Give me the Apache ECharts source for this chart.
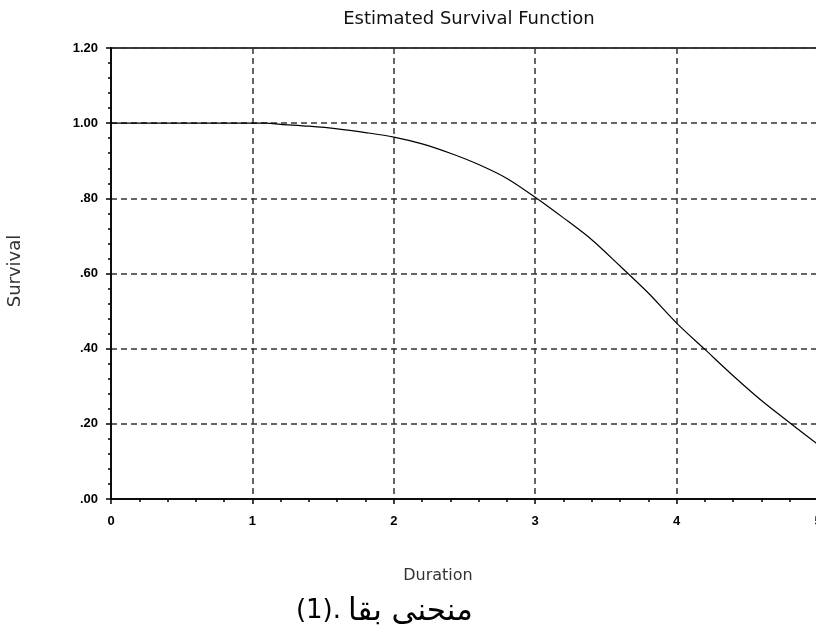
<!DOCTYPE html>
<html>
<head>
<meta charset="utf-8">
<title>Estimated Survival Function</title>
<script src="https://cdn.jsdelivr.net/npm/echarts@6/dist/echarts.min.js"></script>
<style>
  html, body { margin: 0; height: 100%; background: #fff; }
  #main { width: 816px; height: 633px; }
</style>
</head>
<body>
<div id="main"></div>
<script>
// estimated survival values
var duration = [0, 0.5, 1.0, 1.1, 1.2, 1.4, 1.6, 1.8, 2.0, 2.2, 2.4, 2.6, 2.8, 3.0, 3.2, 3.4, 3.6, 3.8, 4.0, 4.2, 4.4, 4.6, 4.8, 5.0];
var survival = [1.0, 1.0, 1.0, 1.0, 0.997, 0.992, 0.985, 0.975, 0.963, 0.945, 0.92, 0.89, 0.853, 0.803, 0.748, 0.69, 0.62, 0.548, 0.468, 0.398, 0.328, 0.262, 0.203, 0.145];
var yTickLabels = { '0': '.00', '0.2': '.20', '0.4': '.40', '0.6': '.60', '0.8': '.80', '1': '1.00', '1.2': '1.20' };

var points = [];
for (var i = 0; i < duration.length; i++) {
  points.push([duration[i], survival[i]]);
}

var chart = echarts.init(document.getElementById('main'));
var gridDash = { type: [6, 4], color: '#333', width: 1.5 };
var tickFont = { fontFamily: 'Liberation Sans', fontWeight: 'bold', fontSize: 13, color: '#000' };

var option = {
  animation: false,
  title: {
    text: 'Estimated Survival Function',
    left: 464, top: 5,
    textAlign: 'center',
    textStyle: { fontFamily: 'DejaVu Sans', fontWeight: 'normal', fontSize: 18, color: '#111' }
  },
  // x = 5 falls just past the right edge of the picture
  grid: { left: 111, width: 707, top: 48, height: 451, outerBoundsMode: 'none', show: true, borderColor: '#000', borderWidth: 1.5 },
  xAxis: {
    type: 'value',
    min: 0, max: 5, interval: 1,
    axisLine: { lineStyle: { color: '#000', width: 1.5 } },
    axisTick: { length: 5, lineStyle: { color: '#000', width: 1.5 } },
    minorTick: { show: true, splitNumber: 5, length: 3, lineStyle: { color: '#000', width: 1.5 } },
    axisLabel: Object.assign({ margin: 16 }, tickFont),
    splitLine: { show: true, lineStyle: gridDash }
  },
  yAxis: {
    type: 'value',
    min: 0, max: 1.2, interval: 0.2,
    axisLine: { show: true, lineStyle: { color: '#000', width: 1.5 } },
    axisTick: { show: true, length: 5, lineStyle: { color: '#000', width: 1.5 } },
    minorTick: { show: true, splitNumber: 5, length: 3, lineStyle: { color: '#000', width: 1.5 } },
    axisLabel: Object.assign({
      margin: 13,
      formatter: function (v) { return yTickLabels[String(+v.toFixed(1))]; }
    }, tickFont),
    splitLine: { show: true, lineStyle: gridDash }
  },
  graphic: [
    {
      type: 'text', x: 15, y: 271, rotation: Math.PI / 2,
      style: { text: 'Survival', fill: '#333', font: '18px "DejaVu Sans"', textAlign: 'center', textVerticalAlign: 'middle' }
    },
    {
      type: 'text', x: 438, y: 576,
      style: { text: 'Duration', fill: '#333', font: '16px "DejaVu Sans"', textAlign: 'center', textVerticalAlign: 'middle' }
    },
    {
      type: 'text', x: 341, y: 611,
      style: { text: '(1).', fill: '#000', font: '26px "DejaVu Sans"', textAlign: 'right', textVerticalAlign: 'middle' }
    },
    {
      type: 'text', x: 348, y: 612,
      style: { text: 'منحنى بقا', fill: '#000', font: '31px "DejaVu Sans"', textAlign: 'left', textVerticalAlign: 'middle' }
    }
  ],
  series: [{
    type: 'line',
    data: points,
    smooth: 0.3,
    showSymbol: false,
    lineStyle: { color: '#000', width: 1.2 }
  }]
};
chart.setOption(option);
</script>
</body>
</html>
